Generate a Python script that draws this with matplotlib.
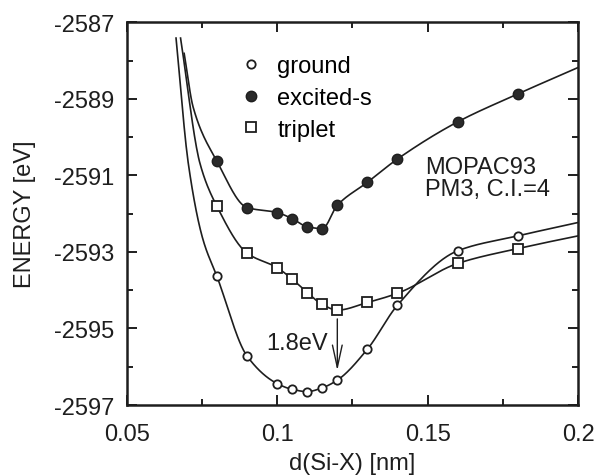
import numpy as np
import matplotlib
matplotlib.use("Agg")
import matplotlib.pyplot as plt

plt.rcParams['font.family'] = ['Liberation Sans', 'DejaVu Sans']
plt.rcParams['axes.unicode_minus'] = False

# marker data
d_ground = [0.08, 0.09, 0.10, 0.105, 0.11, 0.115, 0.12, 0.13, 0.14, 0.16, 0.18]
e_ground = [-2593.64, -2595.72, -2596.44, -2596.59, -2596.65, -2596.55,
            -2596.35, -2595.54, -2594.39, -2592.97, -2592.58]

d_excited = [0.08, 0.09, 0.10, 0.105, 0.11, 0.115, 0.12, 0.13, 0.14, 0.16, 0.18]
e_excited = [-2590.63, -2591.84, -2591.97, -2592.13, -2592.34, -2592.39,
             -2591.78, -2591.18, -2590.57, -2589.60, -2588.87]

d_triplet = [0.08, 0.09, 0.10, 0.105, 0.11, 0.115, 0.12, 0.13, 0.14, 0.16, 0.18]
e_triplet = [-2591.81, -2593.03, -2593.41, -2593.71, -2594.06, -2594.37,
             -2594.52, -2594.32, -2594.08, -2593.30, -2592.91]

# extra points on the drawn fit curves (outside the markers)
cx_ground = [0.0664, 0.0705, 0.0753]
cy_ground = [-2587.41, -2590.70, -2592.66]
cx_triplet = [0.0679, 0.0744]
cy_triplet = [-2587.41, -2590.70]
cx_excited = [0.0691, 0.0721]
cy_excited = [-2587.81, -2589.22]
end_x = 0.2
end_ground, end_triplet, end_excited = -2592.23, -2592.58, -2588.18

xticks = [0.05, 0.1, 0.15, 0.2]
xlabels = ['0.05', '0.1', '0.15', '0.2']
yticks = [-2597, -2595, -2593, -2591, -2589, -2587]
ylabels = ['-2597', '-2595', '-2593', '-2591', '-2589', '-2587']


def pchip(x, y, n=400):
    x = np.asarray(x, float)
    y = np.asarray(y, float)
    h = np.diff(x)
    s = np.diff(y) / h
    m = np.zeros_like(y)
    for k in range(1, len(x) - 1):
        if s[k - 1] * s[k] > 0:
            w1 = 2 * h[k] + h[k - 1]
            w2 = h[k] + 2 * h[k - 1]
            m[k] = (w1 + w2) / (w1 / s[k - 1] + w2 / s[k])
    m[0] = s[0]
    m[-1] = s[-1]
    xs = np.linspace(x[0], x[-1], n)
    idx = np.clip(np.searchsorted(x, xs) - 1, 0, len(x) - 2)
    t = (xs - x[idx]) / h[idx]
    h00 = 2 * t**3 - 3 * t**2 + 1
    h10 = t**3 - 2 * t**2 + t
    h01 = -2 * t**3 + 3 * t**2
    h11 = t**3 - t**2
    ys = (h00 * y[idx] + h10 * h[idx] * m[idx] + h01 * y[idx + 1]
          + h11 * h[idx] * m[idx + 1])
    return xs, ys


fig = plt.figure(figsize=(5.99, 4.77), dpi=100)
ax = fig.add_axes([0.2115, 0.1488, 0.7535, 0.8022])
ink = '#1e1e1e'

for cx, cy, d, e, ye in [(cx_ground, cy_ground, d_ground, e_ground, end_ground),
                         (cx_triplet, cy_triplet, d_triplet, e_triplet, end_triplet),
                         (cx_excited, cy_excited, d_excited, e_excited, end_excited)]:
    xs, ys = pchip(cx + d + [end_x], cy + e + [ye])
    ax.plot(xs, ys, color=ink, lw=1.2)

ax.plot(d_ground, e_ground, 'o', ms=6, mfc='white', mec=ink, mew=1.3,
        label='ground', ls='none')
ax.plot(d_excited, e_excited, 'o', ms=7.5, mfc='#2a2a2a', mec=ink, mew=1,
        label='excited-s', ls='none')
ax.plot(d_triplet, e_triplet, 's', ms=6.5, mfc='white', mec=ink, mew=1.3,
        label='triplet', ls='none')

ax.annotate('', xy=(0.12, -2596.1), xytext=(0.12, -2594.75),
            arrowprops=dict(arrowstyle='->,head_length=1.6,head_width=0.35',
                            color=ink, lw=1.0, shrinkA=0, shrinkB=0,
                            mutation_scale=10))
ax.text(0.1169, -2595.54, '1.8eV', ha='right', va='baseline',
        fontsize=17, color=ink)
ax.text(0.1491, -2590.48, 'MOPAC93\nPM3, C.I.=4', ha='left', va='top',
        fontsize=17, color=ink, linespacing=1.0)

ax.set_xlim(0.05, 0.2)
ax.set_ylim(-2597, -2587)
ax.set_xticks(xticks)
ax.set_xticklabels(xlabels)
ax.set_yticks(yticks)
ax.set_yticklabels(ylabels)
ax.set_xticks([0.075, 0.125, 0.175], minor=True)
ax.set_yticks([-2596, -2594, -2592, -2590, -2588], minor=True)
ax.tick_params(which='both', direction='in', top=True, right=True,
               colors=ink, labelsize=17, width=1.4)
ax.tick_params(which='major', length=7)
ax.tick_params(axis='y', which='major', pad=9)
ax.tick_params(axis='x', which='major', pad=13)
ax.tick_params(which='minor', length=4.5)
for sp in ax.spines.values():
    sp.set_linewidth(1.8)
    sp.set_color(ink)

ax.set_xlabel('d(Si-X) [nm]', fontsize=17, color=ink, labelpad=5)
ax.set_ylabel('ENERGY [eV]', fontsize=17, color=ink, labelpad=13)

ax.legend(loc='upper left', bbox_to_anchor=(0.25, 0.915), frameon=False,
          fontsize=17, handlelength=1.0, handletextpad=0.6,
          labelspacing=0.42, borderpad=0, borderaxespad=0)

fig.savefig('out.png', dpi=100)
